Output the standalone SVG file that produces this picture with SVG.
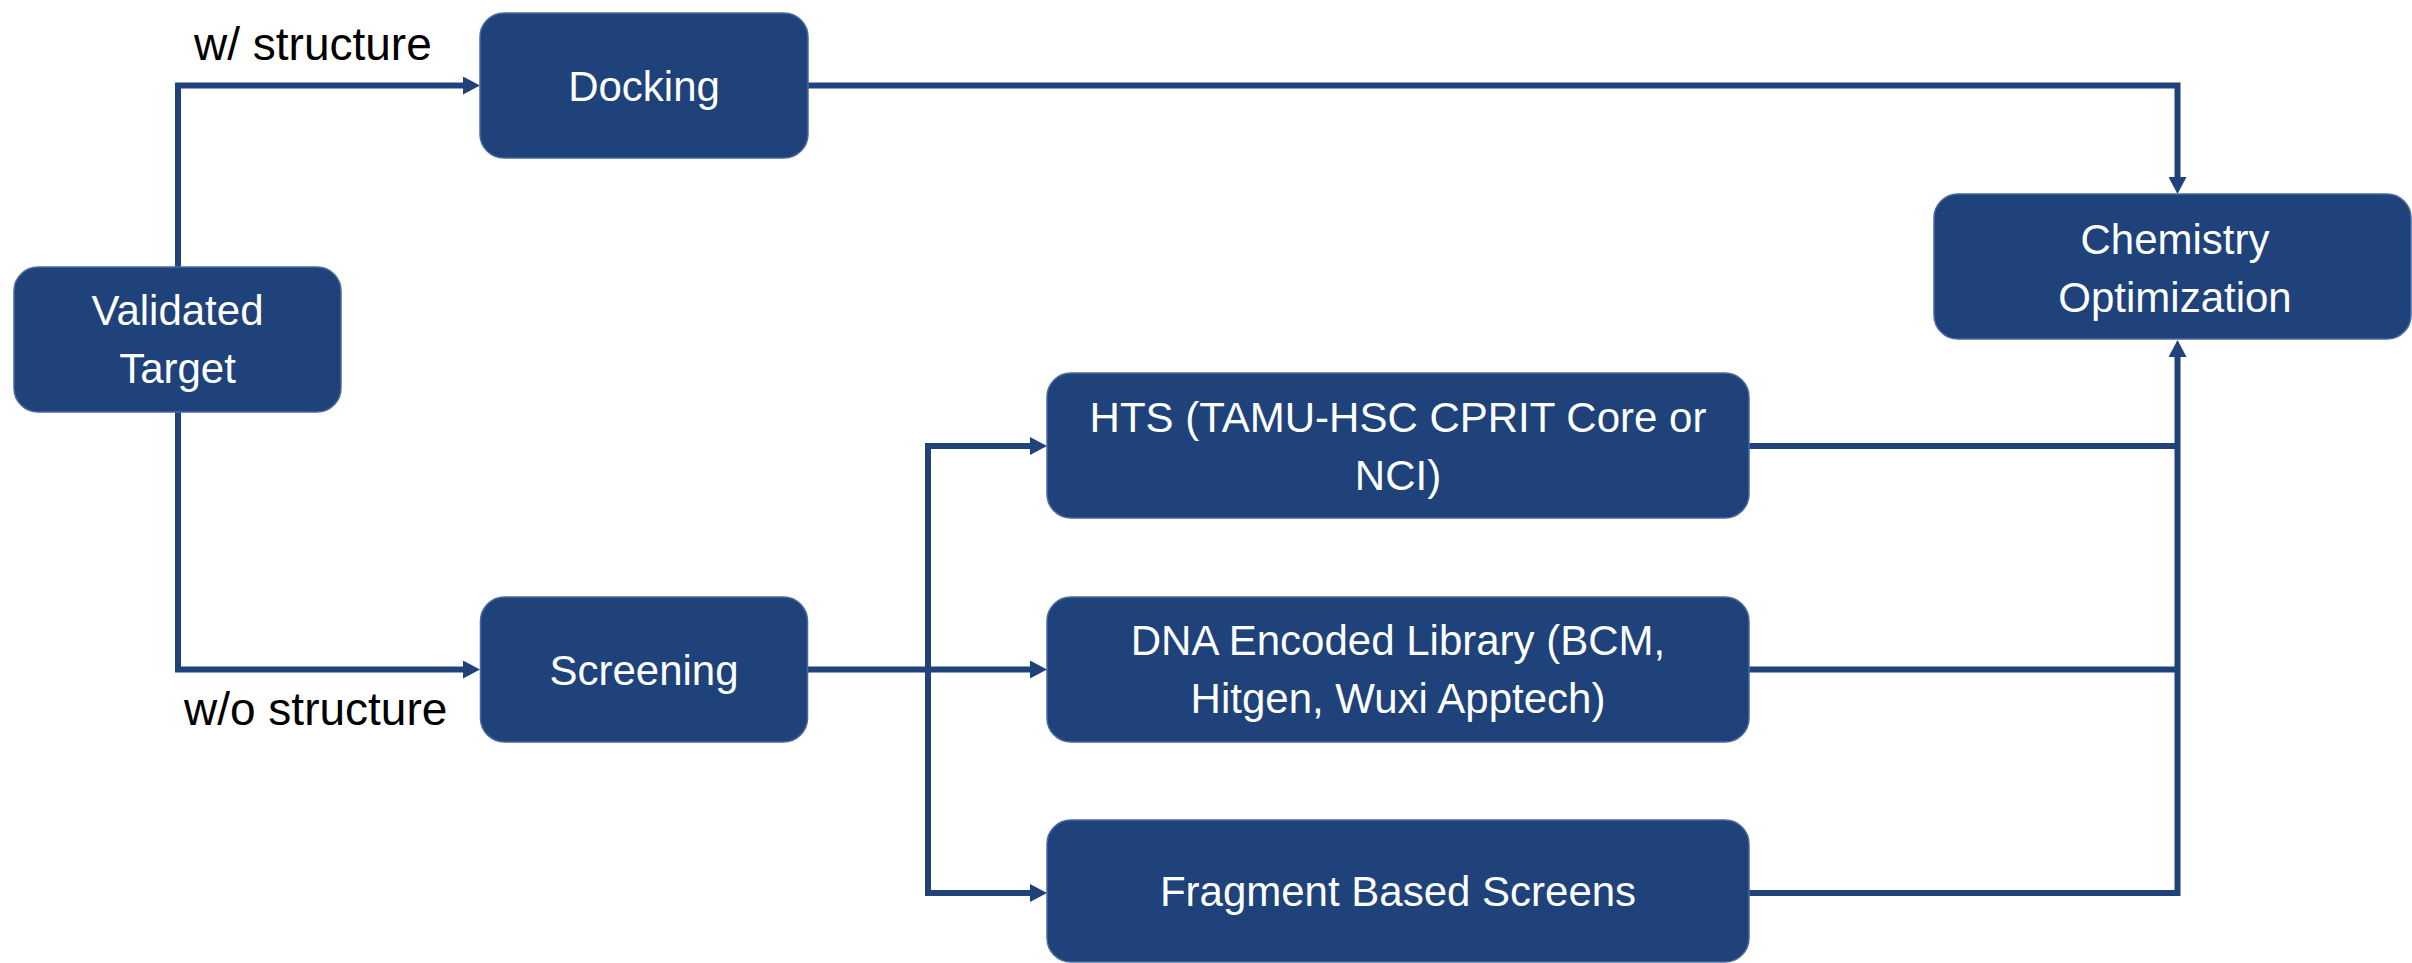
<svg xmlns="http://www.w3.org/2000/svg" width="2412" height="963" viewBox="0 0 2412 963">
  <style>
    .box { fill: #1E4279; stroke: #4A6A9F; stroke-width: 1.5; }
    .nt { font-family: "Liberation Sans", Arial, sans-serif; font-size: 42px; fill: #FFFFFF; text-anchor: middle; }
    .lbl { font-family: "Liberation Sans", Arial, sans-serif; font-size: 46px; fill: #000000; }
    .conn { fill: none; stroke: #1E4279; stroke-width: 6; stroke-linejoin: miter; stroke-linecap: butt; }
  </style>
  <defs>
    <marker id="arrow" markerUnits="userSpaceOnUse" markerWidth="17" markerHeight="18" viewBox="0 0 17 18" refX="7" refY="9" orient="auto">
      <path d="M0,0 L17,9 L0,18 Z" fill="#1E4279"/>
    </marker>
  </defs>
  <rect width="2412" height="963" fill="#FFFFFF"/>

  <g id="connectors">
    <path class="conn" d="M178 267 V85.5 H470" marker-end="url(#arrow)"/>
    <path class="conn" d="M178 411 V669.5 H470" marker-end="url(#arrow)"/>
    <path class="conn" d="M808 85.5 H2177.5 V184" marker-end="url(#arrow)"/>
    <path class="conn" d="M807 669.5 H1037" marker-end="url(#arrow)"/>
    <path class="conn" d="M928 669.5 V446 H1037" marker-end="url(#arrow)"/>
    <path class="conn" d="M928 669.5 V893 H1037" marker-end="url(#arrow)"/>
    <path class="conn" d="M1749 446 H2177.5"/>
    <path class="conn" d="M1749 669.5 H2177.5"/>
    <path class="conn" d="M1749 893 H2177.5 V350" marker-end="url(#arrow)"/>
  </g>

  <g id="label-with">
    <text class="lbl" x="194" y="60">w/ structure</text>
  </g>
  <g id="label-without">
    <text class="lbl" x="184" y="725">w/o structure</text>
  </g>

  <g id="validated-target">
    <rect class="box" x="14" y="267" width="327" height="145" rx="24" ry="24"/>
    <text class="nt" x="177.5" y="325">Validated</text>
    <text class="nt" x="177.5" y="383">Target</text>
  </g>

  <g id="docking">
    <rect class="box" x="480" y="13" width="328" height="145" rx="24" ry="24"/>
    <text class="nt" x="644" y="100.5">Docking</text>
  </g>

  <g id="screening">
    <rect class="box" x="480.5" y="597" width="327" height="145" rx="24" ry="24"/>
    <text class="nt" x="644" y="684.5">Screening</text>
  </g>

  <g id="hts">
    <rect class="box" x="1047" y="373" width="702" height="145" rx="24" ry="24"/>
    <text class="nt" x="1398" y="432">HTS (TAMU-HSC CPRIT Core or</text>
    <text class="nt" x="1398" y="490">NCI)</text>
  </g>

  <g id="del">
    <rect class="box" x="1047" y="597" width="702" height="145" rx="24" ry="24"/>
    <text class="nt" x="1398" y="655">DNA Encoded Library (BCM,</text>
    <text class="nt" x="1398" y="713">Hitgen, Wuxi Apptech)</text>
  </g>

  <g id="fragment">
    <rect class="box" x="1047" y="820" width="702" height="142" rx="24" ry="24"/>
    <text class="nt" x="1398" y="906">Fragment Based Screens</text>
  </g>

  <g id="chemistry">
    <rect class="box" x="1934" y="194" width="477" height="145" rx="24" ry="24"/>
    <text class="nt" x="2175" y="254">Chemistry</text>
    <text class="nt" x="2175" y="312">Optimization</text>
  </g>
</svg>
